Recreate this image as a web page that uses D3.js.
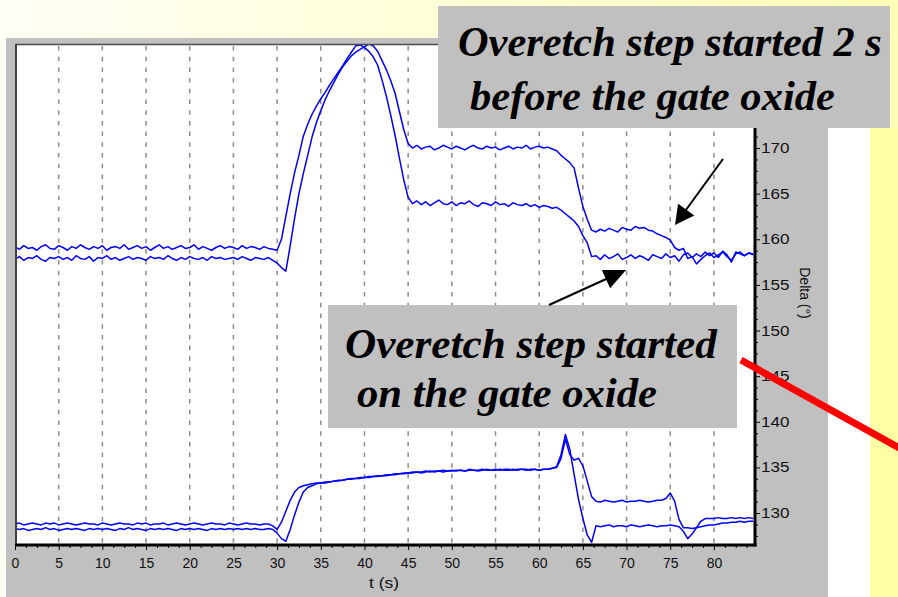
<!DOCTYPE html>
<html>
<head>
<meta charset="utf-8">
<script src="https://cdn.jsdelivr.net/npm/d3@7/dist/d3.min.js"></script>
<style>
  html, body { margin: 0; padding: 0; background: #fff; }
  svg { display: block; }
</style>
</head>
<body>
<div id="chart"></div>
<script>
'use strict';

// DATA ---------------------
// Delta (deg), one value every t_step seconds from t = 0
const t_step = 0.5

// upper pair: curve that rises first (peak ~39 s, plateau ~164)
const delta_early = [
  159.2,158.9,159.3,159.0,159.1,158.8,159.2,159.4,159.0,158.9,
  159.3,159.1,158.8,159.2,159.0,159.4,159.1,158.9,159.2,159.0,
  159.3,158.8,159.1,159.2,159.0,159.4,158.9,159.1,159.3,159.0,
  159.2,158.8,159.1,159.4,159.0,159.2,158.9,159.1,159.3,159.0,
  159.1,159.4,158.9,159.2,159.0,158.8,159.1,159.3,159.0,159.2,
  159.1,158.9,159.3,159.0,159.2,159.1,158.9,159.2,159.0,158.9,
  158.8,160.0,162.5,165.0,167.3,169.2,171.3,172.6,173.7,174.6,
  175.4,176.1,176.9,177.6,178.3,179.0,179.8,180.5,181.2,181.3,
  181.0,180.6,180.0,179.1,177.5,175.7,173.6,171.4,168.9,166.5,
  164.6,
  163.9,164.2,163.8,164.1,163.7,164.0,164.3,163.9,163.8,164.1,
  163.7,164.0,163.9,164.2,163.8,163.6,164.0,163.9,163.7,164.1,
  163.8,163.9,163.6,164.0,163.8,163.7,163.9,163.6,163.8,163.5,
  163.7,163.6,163.4,163.5,
  163.2,162.8,162.4,162.0,161.4,160.4,159.6,158.1,
  158.2,157.8,158.3,157.9,158.1,158.4,157.8,158.0,158.3,157.9,
  158.2,158.0,157.7,158.3,158.1,157.9,158.4,158.0,158.2,157.6,
  158.3,158.5,158.0,158.4,158.1,158.6,158.2,158.5,158.0,158.7,
  158.3,157.5,158.6,158.4,158.2,158.5,158.4
]

// upper pair: curve that rises later (dip at 31 s, plateau ~170, step at 75 s)
const delta_late = [
  157.8,158.1,157.7,158.0,157.9,158.2,157.8,157.6,158.0,157.9,
  158.1,157.8,158.0,157.7,158.2,157.9,157.8,158.1,157.6,158.0,
  157.9,158.2,157.8,158.0,157.7,157.9,158.1,157.8,158.0,157.9,
  157.7,158.1,157.9,158.0,157.8,158.2,157.9,157.7,158.0,157.8,
  158.1,157.9,157.8,158.0,157.7,158.1,157.9,158.0,157.8,157.9,
  158.0,157.8,158.1,157.9,157.7,158.0,157.9,157.8,158.0,157.7,
  157.4,156.9,156.5,159.3,162.3,165.0,167.2,169.2,171.2,172.8,
  174.1,175.3,176.3,177.2,178.1,178.9,179.5,180.1,180.5,180.8,
  181.1,181.4,181.2,180.6,179.6,178.6,177.4,176.0,174.0,172.0,
  170.5,
  170.0,170.3,169.9,170.1,170.2,169.8,170.0,170.3,170.1,169.9,
  170.2,170.0,169.8,170.1,170.3,170.0,169.9,170.2,170.0,170.1,
  169.8,170.0,170.2,169.9,170.1,170.0,170.3,169.9,170.1,170.2,
  170.0,170.1,169.9,
  169.7,169.2,168.8,168.4,167.8,165.6,163.6,162.2,161.0,
  160.8,161.1,160.9,161.2,161.0,160.8,161.3,161.1,161.0,161.4,
  161.2,161.3,161.0,160.9,160.6,160.4,
  160.2,159.9,159.1,158.8,159.0,157.9,
  158.1,157.3,157.8,158.2,158.5,158.0,158.3,158.6,158.1,157.7,
  158.4,158.6,158.2,158.5,158.3
]

// lower pair: curve that ends on the ~131 plateau
const low_upper = [
  128.8,128.9,128.7,128.8,128.9,128.8,128.7,128.9,128.8,128.9,
  128.7,128.8,128.9,128.8,128.7,128.8,128.9,128.8,128.8,128.7,
  128.9,128.8,128.7,128.8,128.9,128.8,128.8,128.7,128.9,128.8,
  128.9,128.7,128.8,128.8,128.9,128.7,128.8,128.9,128.8,128.7,
  128.8,128.9,128.8,128.7,128.8,128.9,128.8,128.8,128.7,128.9,
  128.8,128.7,128.8,128.9,128.8,128.8,128.7,128.8,128.8,128.6,
  128.2,129.0,130.2,131.4,132.3,132.8,133.0,133.1,133.2,133.3,
  133.3,133.4,133.4,133.5,133.5,133.6,133.7,133.7,133.8,133.8,
  133.9,133.9,134.0,134.0,134.1,134.1,134.2,134.2,134.3,134.3,
  134.4,134.4,134.5,134.4,134.5,134.6,134.5,134.6,134.5,134.6,
  134.7,134.6,134.7,134.6,134.7,134.7,134.6,134.7,134.8,134.7,
  134.7,134.8,134.7,134.7,134.8,134.7,134.8,134.8,134.7,134.8,
  134.7,134.8,134.8,134.9,
  135.0,136.0,138.1,136.4,135.8,136.0,135.2,133.5,131.8,
  131.3,131.2,131.4,131.3,131.2,131.3,131.4,131.2,131.3,131.3,
  131.4,131.3,131.2,131.3,131.4,131.4,
  131.6,132.2,131.3,129.3,128.4,
  128.4,128.3,128.4,128.5,128.6,128.7,128.7,128.8,128.9,128.9,
  129.0,129.0,129.1,129.0,129.1,129.1
]

// lower pair: curve that dips to ~127 at 66 s and 77 s
const low_lower = [
  128.3,128.2,128.3,128.1,128.2,128.3,128.2,128.4,128.2,128.3,
  128.1,128.2,128.3,128.2,128.3,128.2,128.1,128.3,128.2,128.3,
  128.2,128.3,128.2,128.1,128.3,128.2,128.4,128.2,128.3,128.2,
  128.1,128.3,128.2,128.3,128.2,128.3,128.2,128.1,128.3,128.2,
  128.3,128.2,128.3,128.2,128.1,128.3,128.2,128.3,128.2,128.3,
  128.2,128.3,128.2,128.3,128.2,128.3,128.2,128.2,128.3,128.2,
  127.8,127.2,126.9,128.2,129.8,131.2,132.3,132.8,133.0,133.2,
  133.3,133.3,133.4,133.5,133.6,133.6,133.7,133.8,133.8,133.9,
  133.9,134.0,134.0,134.1,134.1,134.2,134.2,134.3,134.3,134.4,
  134.4,134.5,134.5,134.5,134.6,134.5,134.6,134.6,134.7,134.6,
  134.6,134.7,134.7,134.6,134.8,134.7,134.7,134.8,134.7,134.7,
  134.8,134.7,134.8,134.8,134.7,134.8,134.8,134.7,134.8,134.8,
  134.7,134.8,134.8,134.9,
  135.1,136.4,138.6,137.0,134.2,131.5,129.4,127.6,126.8,
  128.6,128.5,128.6,128.7,128.5,128.6,128.6,128.5,128.7,128.6,
  128.5,128.6,128.7,128.6,128.5,128.6,128.6,128.7,128.6,128.5,
  128.0,127.2,127.7,128.4,129.1,129.4,
  129.4,129.4,129.5,129.4,129.4,129.5,129.4,129.5,129.4,129.5,129.4
]

const series = [delta_early, delta_late, low_upper, low_lower]

const x_ticks = [0, 5, 10, 15, 20, 25, 30, 35, 40, 45, 50, 55, 60, 65, 70, 75, 80]
// 175 and 180 sit under the top note box, so they are not labelled
const y_ticks = [130, 135, 140, 145, 150, 155, 160, 165, 170]
const x_title = 't (s)'
const y_title = 'Delta (°)'
const note_top = ['Overetch step started 2 s', 'before the gate oxide']
const note_bottom = ['Overetch step started', 'on the gate oxide']


// LAYOUT ---------------------
const width        = 898
const height       = 597
const plot_left    = 15
const plot_right   = 755
const plot_top     = 44
const plot_bottom  = 545
const trace_color  = '#0000ff'
const panel_gray   = '#c0c0c0'
const label_font   = '"Liberation Sans", Arial, sans-serif'
const note_font    = '"Liberation Serif", "Times New Roman", serif'

var t_values = series[0].map(function(d, i) { return i * t_step })

var x = d3.scaleLinear().domain([0, 84.7]).range([plot_left, plot_right])
var y = d3.scaleLinear().domain([126.5, 181.4]).range([plot_bottom, plot_top])

var svg = d3.select('#chart').append('svg')
    .attr('width', width)
    .attr('height', height)

// BACKGROUND ---------------------
var grad = svg.append('defs').append('linearGradient')
    .attr('id', 'topgrad')
    .attr('x1', '0%').attr('x2', '100%').attr('y1', '0%').attr('y2', '0%')
grad.append('stop').attr('offset', '0%').attr('stop-color', '#fffff6')
grad.append('stop').attr('offset', '100%').attr('stop-color', '#ffffb8')

svg.select('defs').append('clipPath').attr('id', 'plotclip')
  .append('rect')
    .attr('x', plot_left).attr('y', plot_top)
    .attr('width', plot_right - plot_left).attr('height', plot_bottom - plot_top)

svg.append('rect').attr('width', width).attr('height', height).attr('fill', 'url(#topgrad)')
svg.append('rect').attr('x', 828).attr('y', 128).attr('width', 42).attr('height', 469).attr('fill', '#ffffff')
svg.append('rect').attr('x', 870).attr('y', 128).attr('width', 28).attr('height', 469).attr('fill', '#ffffa6')

// gray chart window
svg.append('rect').attr('x', 6).attr('y', 38).attr('width', 822).attr('height', 559).attr('fill', panel_gray)
svg.append('rect')
    .attr('x', plot_left).attr('y', plot_top)
    .attr('width', plot_right - plot_left).attr('height', plot_bottom - plot_top)
    .attr('fill', '#ffffff')

// GRID ---------------------
svg.append('g').selectAll('line')
    .data(x_ticks.filter(function(d) { return d > 0 }))
  .enter().append('line')
    .attr('x1', function(d) { return x(d) })
    .attr('x2', function(d) { return x(d) })
    .attr('y1', plot_top + 2)
    .attr('y2', plot_bottom)
    .attr('stroke', '#8c8c8c')
    .attr('stroke-width', 1.5)
    .attr('stroke-dasharray', '4.5,6.2')

// TRACES ---------------------
var line = d3.line()
    .x(function(d, i) { return x(t_values[i]) })
    .y(function(d) { return y(d) })

svg.append('g').attr('clip-path', 'url(#plotclip)')
  .selectAll('path')
    .data(series)
  .enter().append('path')
    .attr('d', line)
    .attr('fill', 'none')
    .attr('stroke', trace_color)
    .attr('stroke-width', 1.5)
    .attr('stroke-linejoin', 'round')

// AXES ---------------------
var minor_x = d3.range(0, 85, 1.25).filter(function(d) { return d % 5 != 0 })
var minor_y = d3.range(127.5, 181.4, 1.25).filter(function(d) { return d % 5 != 0 })

var xaxis = svg.append('g')
    .attr('transform', 'translate(0,' + plot_bottom + ')')
    .call(d3.axisBottom(x).tickValues(x_ticks).tickSize(5).tickPadding(8).tickSizeOuter(0))
svg.append('g')
    .attr('transform', 'translate(0,' + plot_bottom + ')')
    .call(d3.axisBottom(x).tickValues(minor_x).tickSize(3).tickFormat('').tickSizeOuter(0))

var yaxis = svg.append('g')
    .attr('transform', 'translate(' + plot_right + ',0)')
    .call(d3.axisRight(y).tickValues(y_ticks).tickSize(5).tickPadding(1).tickSizeOuter(0))
svg.append('g')
    .attr('transform', 'translate(' + plot_right + ',0)')
    .call(d3.axisRight(y).tickValues(minor_y).tickSize(3).tickFormat('').tickSizeOuter(0))

svg.selectAll('.domain').remove()
svg.selectAll('.tick line').attr('stroke', '#000')
xaxis.selectAll('text').attr('font-family', label_font).attr('font-size', 14).attr('fill', '#111')
yaxis.selectAll('text')
    .attr('font-family', label_font).attr('font-size', 14).attr('fill', '#111')
    .attr('x', 5)
    .attr('transform', 'scale(1.22,1)')

// frame lines
svg.append('line').attr('x1', plot_left).attr('x2', plot_right).attr('y1', plot_top + 0.5).attr('y2', plot_top + 0.5)
    .attr('stroke', '#4a4a4a').attr('stroke-width', 1.5)
svg.append('line').attr('x1', plot_left + 1).attr('x2', plot_left + 1).attr('y1', plot_top).attr('y2', plot_bottom)
    .attr('stroke', '#404040').attr('stroke-width', 2)
svg.append('line').attr('x1', plot_left).attr('x2', plot_right + 1.5).attr('y1', plot_bottom).attr('y2', plot_bottom)
    .attr('stroke', '#000').attr('stroke-width', 3)
svg.append('line').attr('x1', plot_right).attr('x2', plot_right).attr('y1', plot_top).attr('y2', plot_bottom + 1.5)
    .attr('stroke', '#000').attr('stroke-width', 3)

// axis titles
svg.append('text')
    .attr('transform', 'translate(384,588) scale(1.25,1)')
    .attr('text-anchor', 'middle')
    .attr('font-family', label_font).attr('font-size', 14).attr('fill', '#111')
    .text(x_title)
svg.append('text')
    .attr('transform', 'translate(800,293) rotate(90)')
    .attr('text-anchor', 'middle')
    .attr('font-family', label_font).attr('font-size', 14).attr('fill', '#111')
    .text(y_title)

// ANNOTATIONS ---------------------
function noteLine(str, x0, base, w) {
    var t = svg.append('text')
        .attr('x', x0).attr('y', base)
        .attr('font-family', note_font)
        .attr('font-weight', 'bold')
        .attr('font-style', 'italic')
        .attr('font-size', 40)
        .attr('fill', '#000')
        .text(str)
    var len = t.node().getComputedTextLength()
    t.attr('font-size', 40 * w / len)
}

function arrow(x1, y1, x2, y2, head_len, head_w) {
    var dx = x2 - x1, dy = y2 - y1
    var l = Math.sqrt(dx * dx + dy * dy)
    var ux = dx / l, uy = dy / l
    var bx = x2 - ux * head_len, by = y2 - uy * head_len
    svg.append('line')
        .attr('x1', x1).attr('y1', y1).attr('x2', bx + ux * 2).attr('y2', by + uy * 2)
        .attr('stroke', '#000').attr('stroke-width', 2)
    svg.append('polygon')
        .attr('points', [[x2, y2], [bx - uy * head_w, by + ux * head_w], [bx + uy * head_w, by - ux * head_w]].join(' '))
        .attr('fill', '#000')
}

svg.append('rect').attr('x', 438).attr('y', 6).attr('width', 452).attr('height', 122).attr('fill', panel_gray)
noteLine(note_top[0], 458, 56, 424)
noteLine(note_top[1], 470, 110, 365)

svg.append('rect').attr('x', 328).attr('y', 305).attr('width', 409).attr('height', 123).attr('fill', panel_gray)
noteLine(note_bottom[0], 345, 358, 372)
noteLine(note_bottom[1], 357, 407, 300)

arrow(723, 159, 675, 225, 19, 10)
arrow(549, 305, 626, 270, 22, 10)

// red pointer line
svg.append('line')
    .attr('x1', 741).attr('y1', 360).attr('x2', 910).attr('y2', 454)
    .attr('stroke', '#ff0000').attr('stroke-width', 7)

</script>
</body>
</html>
